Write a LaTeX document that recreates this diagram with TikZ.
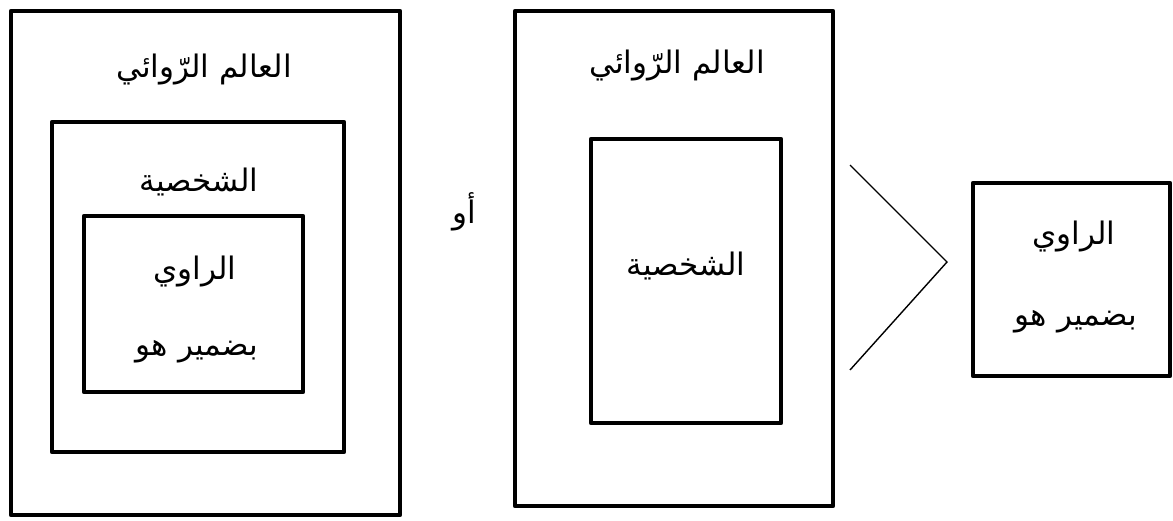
\documentclass[tikz,border=0pt]{standalone}
\usepackage{fontspec}
\TeXXeTstate=1
\newfontfamily\arabicfont[Script=Arabic]{DejaVu Sans}
\begin{document}
\begin{tikzpicture}[x=1pt,y=-1pt,
  box/.style={draw,line width=4.5pt,rectangle,inner sep=0pt,line join=round},
  lbl/.style={font=\arabicfont\fontsize{31}{36}\selectfont,inner sep=0pt}]
\useasboundingbox (0,0) rectangle (1173,520);
% left group
\node[box,minimum width=389pt,minimum height=504pt] (w1) at (205.5,263) {};
\node[box,minimum width=292pt,minimum height=330pt] (c1) at (198,287) {};
\node[box,minimum width=219pt,minimum height=176pt] (n1) at (193.5,304) {};
\node[lbl] (tw1) at (204,70) {\beginR العالم الرّوائي\endR};
\node[lbl] (tc1) at (199,182) {\beginR الشخصية\endR};
\node[lbl] (tn1a) at (195,272) {\beginR الراوي\endR};
\node[lbl] (tn1b) at (197,352) {\beginR بضمير هو\endR};
% or
\node[lbl] (or) at (464,212) {\beginR أو\endR};
% middle group
\node[box,minimum width=318pt,minimum height=495pt] (w2) at (674,258.5) {};
\node[box,minimum width=190pt,minimum height=284pt] (c2) at (686,281) {};
\node[lbl] (tw2) at (677,66) {\beginR العالم الرّوائي\endR};
\node[lbl] (tc2) at (686,266) {\beginR الشخصية\endR};
% chevron
\coordinate (a) at (850,165);
\coordinate (b) at (947,262);
\coordinate (c) at (850,370);
\draw[line width=1.4pt] (a) -- (b) -- (c);
% right box
\node[box,minimum width=197pt,minimum height=193pt] (n3) at (1071.5,279.5) {};
\node[lbl] (tn3a) at (1074,237) {\beginR الراوي\endR};
\node[lbl] (tn3b) at (1076,322) {\beginR بضمير هو\endR};
\end{tikzpicture}
\end{document}
